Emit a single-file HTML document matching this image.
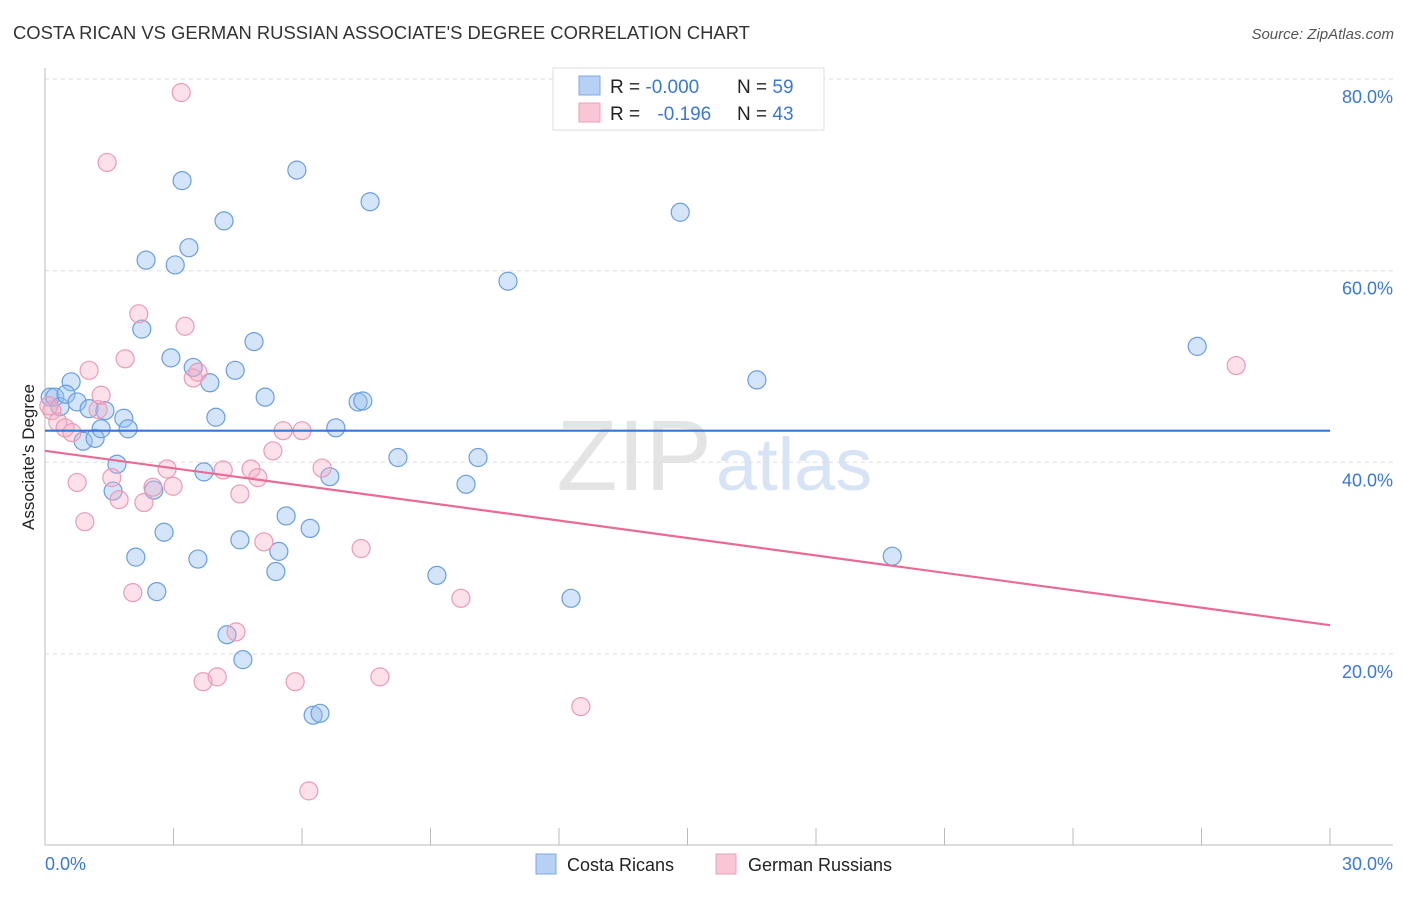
<!DOCTYPE html>
<html><head><meta charset="utf-8"><style>
body{margin:0;background:#fff;font-family:"Liberation Sans",sans-serif}
svg text{font-family:"Liberation Sans",sans-serif}
</style></head><body>
<svg id="chart" width="1406" height="892">
<text x="13" y="39" font-size="18.4" fill="#333">COSTA RICAN VS GERMAN RUSSIAN ASSOCIATE'S DEGREE CORRELATION CHART</text>
<text x="1394" y="39" font-size="15" fill="#555" font-style="italic" text-anchor="end">Source: ZipAtlas.com</text>
<text x="712" y="490" font-size="100" fill="#e4e4e4" font-family="Liberation Serif" text-anchor="end">ZIP</text>
<text x="716" y="490" font-size="74" fill="#d6e4f6">atlas</text>
<g id="grid"></g><g id="axes"></g><g id="marks"></g>
<text transform="translate(34,457) rotate(-90)" font-size="17" fill="#222" text-anchor="middle">Associate's Degree</text>
<g>
<rect x="553" y="68" width="271" height="62" fill="#fff" stroke="#ddd"/>
<rect x="579" y="76" width="21" height="19" fill="#b7d1f4" stroke="#7ea9e6"/>
<rect x="579" y="103" width="21" height="19" fill="#f8c6d5" stroke="#eea0b8"/>
<text x="610" y="93" font-size="19" fill="#222">R = <tspan fill="#3a78d4">-0.000</tspan></text>
<text x="737" y="93" font-size="19" fill="#222">N = <tspan fill="#3a78d4">59</tspan></text>
<text x="610" y="120" font-size="19" fill="#222">R = <tspan fill="#3a78d4" dx="12">-0.196</tspan></text>
<text x="737" y="120" font-size="19" fill="#222">N = <tspan fill="#3a78d4">43</tspan></text>
</g>
<g>
<rect x="536" y="854" width="20" height="20" fill="#b7d1f4" stroke="#7ea9e6"/>
<text x="567" y="871" font-size="18" fill="#222">Costa Ricans</text>
<text x="748" y="871" font-size="18" fill="#222">German Russians</text>
<rect x="716" y="854" width="20" height="20" fill="#f8c6d5" stroke="#eea0b8"/>
</g>
</svg>
<script>
const blueX=[0.12,0.23,0.35,0.61,0.49,0.75,1.03,0.89,1.17,1.31,1.40,1.68,1.59,1.84,1.94,2.12,2.26,2.36,2.54,2.61,2.78,2.94,3.04,3.20,3.36,3.46,3.57,3.71,3.85,3.99,4.18,4.25,4.44,4.55,4.62,4.88,5.14,5.46,5.39,5.63,5.88,6.19,6.26,6.42,6.65,6.79,7.31,7.42,7.59,8.24,9.15,9.83,10.11,10.81,12.28,14.83,16.62,19.78,26.90];
const blueY=[46.8,46.8,45.8,48.4,47.1,46.3,45.6,42.2,42.5,43.5,45.4,39.8,37.0,44.6,43.5,30.1,53.9,61.1,37.1,26.5,32.7,50.9,60.6,69.4,62.4,49.9,29.9,39.0,48.3,44.7,65.2,22.0,49.6,31.9,19.4,52.6,46.8,30.7,28.6,34.4,70.5,33.1,13.6,13.8,38.5,43.6,46.3,46.4,67.2,40.5,28.2,37.7,40.5,58.9,25.8,66.1,48.6,30.2,52.1];
const pinkX=[0.16,0.30,0.47,0.63,0.75,0.93,1.03,1.24,1.31,1.45,1.56,1.73,1.87,2.05,2.19,2.31,2.52,2.85,2.99,3.18,3.27,3.46,3.57,3.69,4.02,4.16,4.46,4.55,4.81,4.97,5.11,5.32,5.56,5.84,6.00,6.16,6.47,7.38,7.82,9.71,12.51,27.81,0.09];
const pinkY=[45.4,44.2,43.6,43.1,37.9,33.8,49.6,45.5,47.0,71.3,38.4,36.1,50.8,26.4,55.5,35.8,37.4,39.3,37.5,78.6,54.2,48.8,49.4,17.1,17.6,39.2,22.3,36.7,39.3,38.4,31.7,41.2,43.3,17.1,43.3,5.7,39.4,31.0,17.6,25.8,14.5,50.1,45.9];
const blueTrend=[43.3,43.3];
const pinkTrend=[41.2,23.0];
const yTicks=[20,40,60,80];
const xTicks=[0,3,6,9,12,15,18,21,24,27,30];
const NS="http://www.w3.org/2000/svg";
const sx=v=>45+v/30*1285;
const sy=v=>845.5-v*9.58;
function mk(tag,attrs,parent){const e=document.createElementNS(NS,tag);for(const k in attrs)e.setAttribute(k,attrs[k]);parent.appendChild(e);return e;}
const grid=document.getElementById('grid'),axes=document.getElementById('axes'),marks=document.getElementById('marks');
yTicks.forEach(t=>{
 const l=mk('line',{x1:45,x2:1393,y1:sy(t),y2:sy(t),stroke:'#ddd','stroke-dasharray':'4,4'},grid);
 
 
 const tx=mk('text',{x:1393,y:sy(t)+24,'font-size':18,fill:'#3a78d4','text-anchor':'end'},grid);
 tx.textContent=t.toFixed(1)+'%';
 
 
});
const ax=mk('line',{x1:45,x2:1393,y1:845,y2:845,stroke:'#bbb'},axes);


const ay=mk('line',{x1:45,x2:45,y1:68,y2:845,stroke:'#bbb'},axes);


xTicks.forEach(t=>{
 const l=mk('line',{x1:sx(t),x2:sx(t),y1:828,y2:845,stroke:'#bbb'},axes);
 
 
});
[[0,'start',45],[30,'end',1393]].forEach(([t,a,x])=>{
 const tx=mk('text',{x:x,y:870,'font-size':18,fill:'#3a78d4','text-anchor':a},axes);
 tx.textContent=t.toFixed(1)+'%';
 
 
});
blueX.forEach((x,i)=>{
 const c=mk('circle',{cx:sx(x),cy:sy(blueY[i]),r:9,fill:'rgba(150,190,240,0.4)',stroke:'#6a9ee0','stroke-width':1.2},marks);
 
 
});
pinkX.forEach((x,i)=>{
 const c=mk('circle',{cx:sx(x),cy:sy(pinkY[i]),r:9,fill:'rgba(245,170,195,0.35)',stroke:'#eb9ab5','stroke-width':1.2},marks);
 
 
});
const bt=mk('line',{x1:sx(0),x2:sx(30),y1:sy(blueTrend[0]),y2:sy(blueTrend[1]),stroke:'#3577d4','stroke-width':2.2},marks);


const pt=mk('line',{x1:sx(0),x2:sx(30),y1:sy(pinkTrend[0]),y2:sy(pinkTrend[1]),stroke:'#e86a95','stroke-width':2.2},marks);


</script>
</body></html>
